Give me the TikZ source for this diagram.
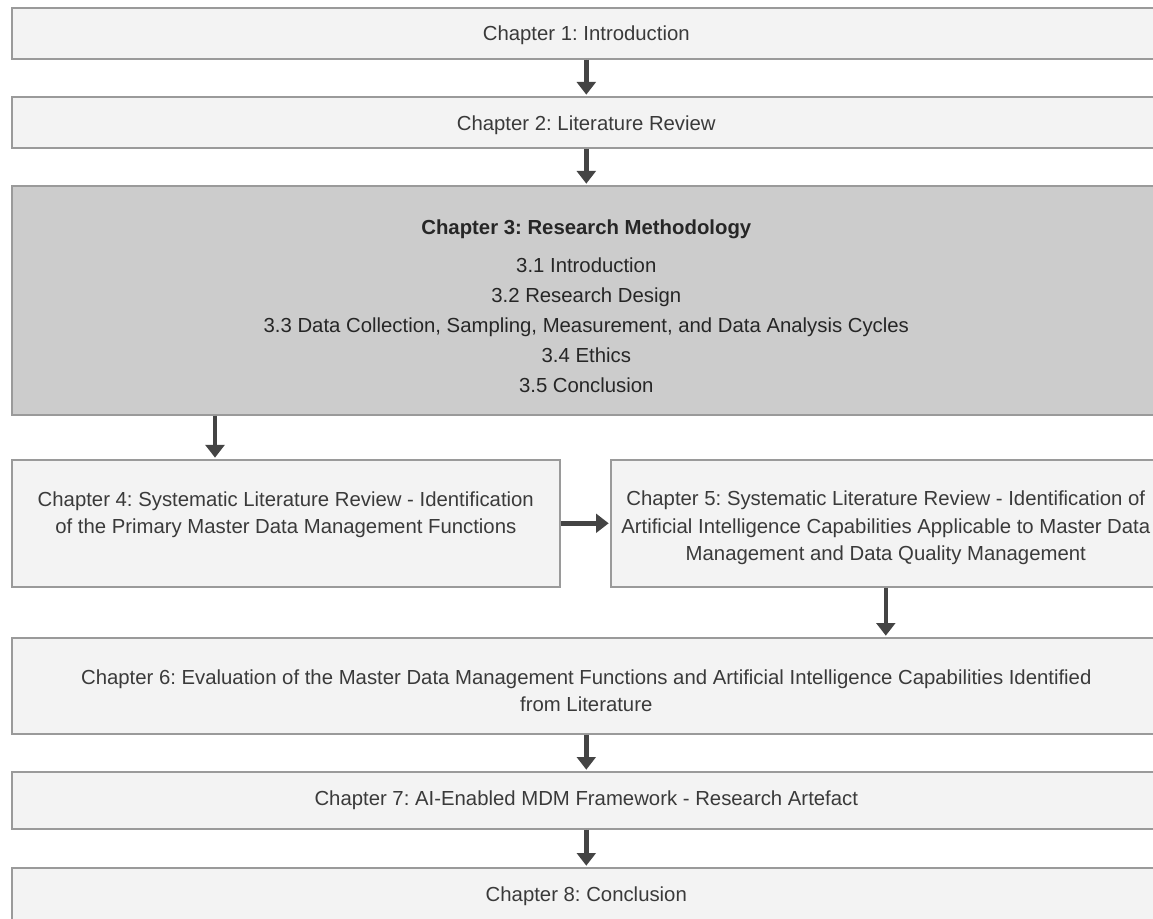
\documentclass[tikz,border=0pt]{standalone}
\usepackage{fontspec}
\setmainfont{Liberation Sans}
\usetikzlibrary{arrows.meta}
\definecolor{boxfill}{HTML}{F3F3F3}
\definecolor{methfill}{HTML}{CCCCCC}
\definecolor{boxline}{HTML}{9A9A9A}
\definecolor{txt}{HTML}{3A3A3A}
\definecolor{arrowc}{HTML}{444444}
% lower a single line of text inside its box without changing the box size
\newcommand{\lowerline}[2]{\raisebox{-#1}[\height][\depth]{#2}}
\tikzset{
  chapbox/.style={draw=boxline, line width=1.2pt, fill=boxfill, anchor=north west,
    inner sep=0pt, align=center, text=txt,
    font=\frenchspacing\fontsize{15.25pt}{20.4pt}\selectfont},
  methbox/.style={chapbox, fill=methfill, text=black!85,
    font=\frenchspacing\fontsize{15.25pt}{22.5pt}\selectfont},
  flow/.style={draw=arrowc, fill=arrowc, line width=3.4pt,
    -{Triangle[width=14pt,length=9.5pt]}, shorten >=1pt}
}
\begin{document}
\begin{tikzpicture}[x=0.75pt,y=-0.75pt]
\useasboundingbox[fill=white] (0,0) rectangle (1153,919);

\node[chapbox, minimum width=861.75pt, minimum height=38.25pt] (c1) at (11,7)
  {\lowerline{1.8pt}{Chapter 1: Introduction}};
\node[chapbox, minimum width=861.75pt, minimum height=38.25pt] (c2) at (11,96)
  {\lowerline{2pt}{Chapter 2: Literature Review}};
\node[methbox, minimum width=861.75pt, minimum height=171.75pt] (c3) at (11,185)
  {\rule{0pt}{20pt}\textbf{Chapter 3: Research Methodology}\\[6pt]
   3.1 Introduction\\
   3.2 Research Design\\
   3.3 Data Collection, Sampling, Measurement, and Data Analysis Cycles\\
   3.4 Ethics\\
   3.5 Conclusion};
\node[chapbox, minimum width=411pt, minimum height=95.25pt] (c4) at (11,459)
  {\rule{0pt}{16pt}Chapter 4: Systematic Literature Review - Identification\\
   of the Primary Master Data Management Functions\\
   \mbox{}};
\node[chapbox, minimum width=412.5pt, minimum height=95.25pt] (c5) at (610,459)
  {\rule{0pt}{18pt}Chapter 5: Systematic Literature Review - Identification of\\
   Artificial Intelligence Capabilities Applicable to Master Data\\
   Management and Data Quality Management};
\node[chapbox, minimum width=861.75pt, minimum height=72pt] (c6) at (11,637)
  {\rule{0pt}{18pt}Chapter 6: Evaluation of the Master Data Management Functions and Artificial Intelligence Capabilities Identified\\
   from Literature};
\node[chapbox, minimum width=861.75pt, minimum height=42.75pt] (c7) at (11,771)
  {Chapter 7: AI-Enabled MDM Framework - Research Artefact};
\node[chapbox, minimum width=861.75pt, minimum height=42pt] (c8) at (11,867)
  {Chapter 8: Conclusion};

\draw[flow] (c1.south) -- (c2.north);
\draw[flow] (c2.south) -- (c3.north);
\draw[flow] ([xshift=153pt]c3.south west) -- ([xshift=153pt]c4.north west);
\draw[flow] (c4.east) -- (c5.west);
\draw[flow] (c5.south) -- (c5.south |- c6.north);
\draw[flow] (c6.south) -- (c7.north);
\draw[flow] (c7.south) -- (c8.north);
\end{tikzpicture}
\end{document}
